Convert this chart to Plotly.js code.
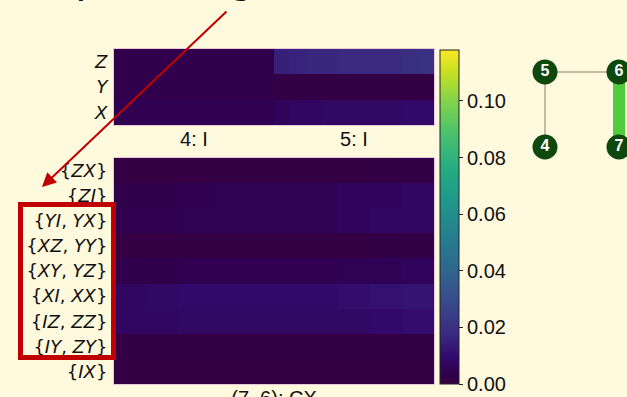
<!DOCTYPE html>
<html>
<head>
<meta charset="utf-8">
<script src="https://cdn.plot.ly/plotly-3.0.1.min.js"></script>
<style>
  html, body { margin: 0; padding: 0; background: #fff9dd; }
  #chart { width: 627px; height: 397px; }
</style>
</head>
<body>
<div id="chart"></div>
<script>
// Single-qubit Pauli error rates on the idle qubits 4 and 5 (10 samples per qubit)
const idleGroups = ['4: I', '5: I'];
const idleRows = ['<i>Z</i>', '<i>Y</i>', '<i>X</i>'];
const idleZ = [0.003, 0.003, 0.003, 0.003, 0.003, 0.003, 0.003, 0.003, 0.003, 0.003,
               0.015, 0.016, 0.017, 0.017, 0.018, 0.018, 0.018, 0.018, 0.019, 0.020];
const idleY = [0.003, 0.003, 0.003, 0.003, 0.003, 0.003, 0.003, 0.003, 0.003, 0.003,
               0.0015, 0.0015, 0.0015, 0.0015, 0.0015, 0.0015, 0.0015, 0.0015, 0.0015, 0.0015];
const idleX = [0.004, 0.004, 0.004, 0.004, 0.004, 0.004, 0.004, 0.004, 0.004, 0.004,
               0.006, 0.007, 0.007, 0.008, 0.008, 0.008, 0.008, 0.008, 0.009, 0.009];

// Two-qubit Pauli error rates on the CX gate (7, 6), grouped up to degeneracy
const cxGroups = ['(7, 6): CX'];
const cxRows = ['{<i>ZX</i>}', '{<i>ZI</i>}', '{<i>YI</i>, <i>YX</i>}', '{<i>XZ</i>, <i>YY</i>}',
                '{<i>XY</i>, <i>YZ</i>}', '{<i>XI</i>, <i>XX</i>}', '{<i>IZ</i>, <i>ZZ</i>}',
                '{<i>IY</i>, <i>ZY</i>}', '{<i>IX</i>}'];
const cxZX   = [0.001, 0.001, 0.001, 0.001, 0.001, 0.001, 0.001, 0.001, 0.0015, 0.002];
const cxZI   = [0.003, 0.003, 0.004, 0.005, 0.005, 0.005, 0.005, 0.006, 0.006, 0.007];
const cxYIYX = [0.004, 0.004, 0.005, 0.005, 0.005, 0.005, 0.005, 0.006, 0.007, 0.007];
const cxXZYY = [0.001, 0.001, 0.001, 0.001, 0.001, 0.001, 0.001, 0.001, 0.0015, 0.002];
const cxXYYZ = [0.003, 0.003, 0.004, 0.004, 0.004, 0.004, 0.004, 0.005, 0.005, 0.006];
const cxXIXX = [0.007, 0.008, 0.009, 0.009, 0.009, 0.009, 0.009, 0.010, 0.011, 0.012];
const cxIZZZ = [0.007, 0.007, 0.008, 0.008, 0.008, 0.008, 0.008, 0.008, 0.009, 0.010];
const cxIYZY = [0.0015, 0.0015, 0.0015, 0.0015, 0.0015, 0.0015, 0.0015, 0.0015, 0.0015, 0.0015];
const cxIX   = [0.001, 0.001, 0.001, 0.001, 0.001, 0.001, 0.001, 0.001, 0.001, 0.001];

// Colour bar ticks
const cbarTicks = [0.00, 0.02, 0.04, 0.06, 0.08, 0.10];
const cbarMax = 0.118;

// Device coupling graph: qubit labels on a 2x2 grid, idle links and the active CX link
const nodeLabels = ['5', '6', '4', '7'];
const nodeCol = [0, 1, 0, 1];
const nodeRow = [0, 0, 1, 1];
const idleLinks = [['5', '6'], ['5', '4']];
const activeLinks = [['6', '7']];

// ---------------------------------------------------------------------------
const W = 627, H = 397;
const px = v => v / W;          // pixel -> paper x
const py = v => 1 - v / H;      // pixel (from top) -> paper y
const idx = n => Array.from({length: n}, (_, i) => i);
const groupCentres = (nCols, groups) => {
  const per = nCols / groups.length;
  return groups.map((g, i) => i * per + (per - 1) / 2);
};

const idleMatrix = [idleZ, idleY, idleX];
const cxMatrix = [cxZX, cxZI, cxYIYX, cxXZYY, cxXYYZ, cxXIXX, cxIZZZ, cxIYZY, cxIX];

const traces = [
  {
    type: 'heatmap', xaxis: 'x', yaxis: 'y', coloraxis: 'coloraxis',
    z: idleMatrix, x: idx(idleZ.length), y: idx(idleRows.length),
    hoverinfo: 'skip'
  },
  {
    type: 'heatmap', xaxis: 'x2', yaxis: 'y2', coloraxis: 'coloraxis',
    z: cxMatrix, x: idx(cxZX.length), y: idx(cxRows.length),
    hoverinfo: 'skip'
  }
];

// graph links
const pos = {};
nodeLabels.forEach((n, i) => { pos[n] = [nodeCol[i], nodeRow[i]]; });
idleLinks.forEach(([a, b]) => traces.push({
  type: 'scatter', mode: 'lines', xaxis: 'x3', yaxis: 'y3',
  x: [pos[a][0], pos[b][0]], y: [pos[a][1], pos[b][1]],
  line: {color: '#c9b9a3', width: 2}, hoverinfo: 'skip', cliponaxis: false
}));
activeLinks.forEach(([a, b]) => traces.push({
  type: 'scatter', mode: 'lines', xaxis: 'x3', yaxis: 'y3',
  x: [pos[a][0], pos[b][0]], y: [pos[a][1], pos[b][1]],
  line: {color: '#52cc3f', width: 12}, hoverinfo: 'skip', cliponaxis: false
}));
traces.push({
  type: 'scatter', mode: 'markers+text', xaxis: 'x3', yaxis: 'y3',
  x: nodeCol, y: nodeRow, text: nodeLabels, textposition: 'middle center',
  textfont: {family: 'Liberation Sans, Arial, sans-serif', size: 16, color: '#ffffff', weight: 'bold'},
  marker: {size: 25, color: '#0d480d', line: {width: 0}},
  hoverinfo: 'skip', cliponaxis: false
});

const mapLine = {showline: true, mirror: true, linecolor: '#e7c9d8', linewidth: 1};
const yFont = {family: 'DejaVu Sans, sans-serif', size: 18, color: '#111111'};
const xFont = {family: 'Liberation Sans, Arial, sans-serif', size: 20, color: '#111111'};

const layout = {
  width: W, height: H,
  margin: {l: 0, r: 0, t: 0, b: 0},
  paper_bgcolor: '#fff9dd',
  plot_bgcolor: 'rgba(0,0,0,0)',
  showlegend: false,
  font: {family: 'Liberation Sans, Arial, sans-serif', color: '#111111'},
  xaxis: Object.assign({
    domain: [px(114), px(434)], anchor: 'y',
    tickmode: 'array', tickvals: groupCentres(idleZ.length, idleGroups), ticktext: idleGroups,
    ticks: '', tickfont: xFont, showgrid: false, zeroline: false,
    range: [-0.5, idleZ.length - 0.5], fixedrange: true, ticklabelstandoff: -4
  }, mapLine),
  yaxis: Object.assign({
    domain: [py(125), py(49)], anchor: 'x',
    tickmode: 'array', tickvals: idx(idleRows.length), ticktext: idleRows,
    ticks: '', tickfont: yFont, showgrid: false, zeroline: false,
    range: [idleRows.length - 0.5, -0.5], fixedrange: true, ticklabelstandoff: 2
  }, mapLine),
  xaxis2: Object.assign({
    domain: [px(114), px(434)], anchor: 'y2',
    tickmode: 'array', tickvals: groupCentres(cxZX.length, cxGroups), ticktext: cxGroups,
    ticks: '', tickfont: xFont, showgrid: false, zeroline: false,
    range: [-0.5, cxZX.length - 0.5], fixedrange: true, ticklabelstandoff: -4
  }, mapLine),
  yaxis2: Object.assign({
    domain: [py(384), py(158)], anchor: 'x2',
    tickmode: 'array', tickvals: idx(cxRows.length), ticktext: cxRows,
    ticks: '', tickfont: yFont, showgrid: false, zeroline: false,
    range: [cxRows.length - 0.5, -0.5], fixedrange: true, ticklabelstandoff: 2
  }, mapLine),
  xaxis3: {
    domain: [0, 1], anchor: 'y3', range: [-545 / 74, -545 / 74 + W / 74],
    visible: false, fixedrange: true
  },
  yaxis3: {
    domain: [0, 1], anchor: 'x3', range: [-72 / 75 + H / 75, -72 / 75],
    visible: false, fixedrange: true
  },
  coloraxis: {
    cmin: 0, cmax: cbarMax,
    colorscale: [
      [0.00, '#36003f'], [0.03, '#30004e'], [0.08, '#320a6c'], [0.15, '#3a2a80'],
      [0.25, '#374c8a'], [0.35, '#2e688e'], [0.45, '#25808e'], [0.55, '#1f988b'],
      [0.65, '#25ad82'], [0.75, '#4ac16d'], [0.85, '#84d44b'], [0.93, '#c4e022'],
      [1.00, '#fbe723']
    ],
    colorbar: {
      x: px(440), xanchor: 'left', y: py(50), yanchor: 'top',
      thickness: 19, thicknessmode: 'pixels', len: 334, lenmode: 'pixels',
      xpad: 0, ypad: 0, outlinewidth: 1, outlinecolor: '#222222',
      tickmode: 'array', tickvals: cbarTicks, ticktext: cbarTicks.map(v => v.toFixed(2)),
      ticks: 'outside', ticklen: 4, tickcolor: '#222222',
      tickfont: {family: 'Liberation Sans, Arial, sans-serif', size: 20, color: '#111111'}
    }
  },
  shapes: [
    {
      type: 'rect', xref: 'paper', yref: 'paper', layer: 'above',
      x0: px(20.5), x1: px(113.5), y0: py(357.5), y1: py(204.5),
      line: {color: '#c00000', width: 5}, fillcolor: 'rgba(0,0,0,0)'
    }
  ],
  annotations: [
    {
      xref: 'paper', yref: 'paper', x: px(404), y: py(5),
      xanchor: 'right', yanchor: 'bottom', showarrow: false,
      text: '(grouped up to ~degenerate)',
      font: {family: 'Lato, Open Sans, sans-serif', size: 42, color: '#111111'}
    },
    {
      xref: 'paper', yref: 'paper', x: px(42), y: py(187),
      axref: 'pixel', ayref: 'pixel', ax: 186, ay: -177,
      showarrow: true, arrowhead: 2, arrowsize: 1.4, arrowwidth: 2,
      arrowcolor: '#c00000', text: ''
    }
  ]
};

Plotly.newPlot('chart', traces, layout, {staticPlot: true, displayModeBar: false});
</script>
</body>
</html>
